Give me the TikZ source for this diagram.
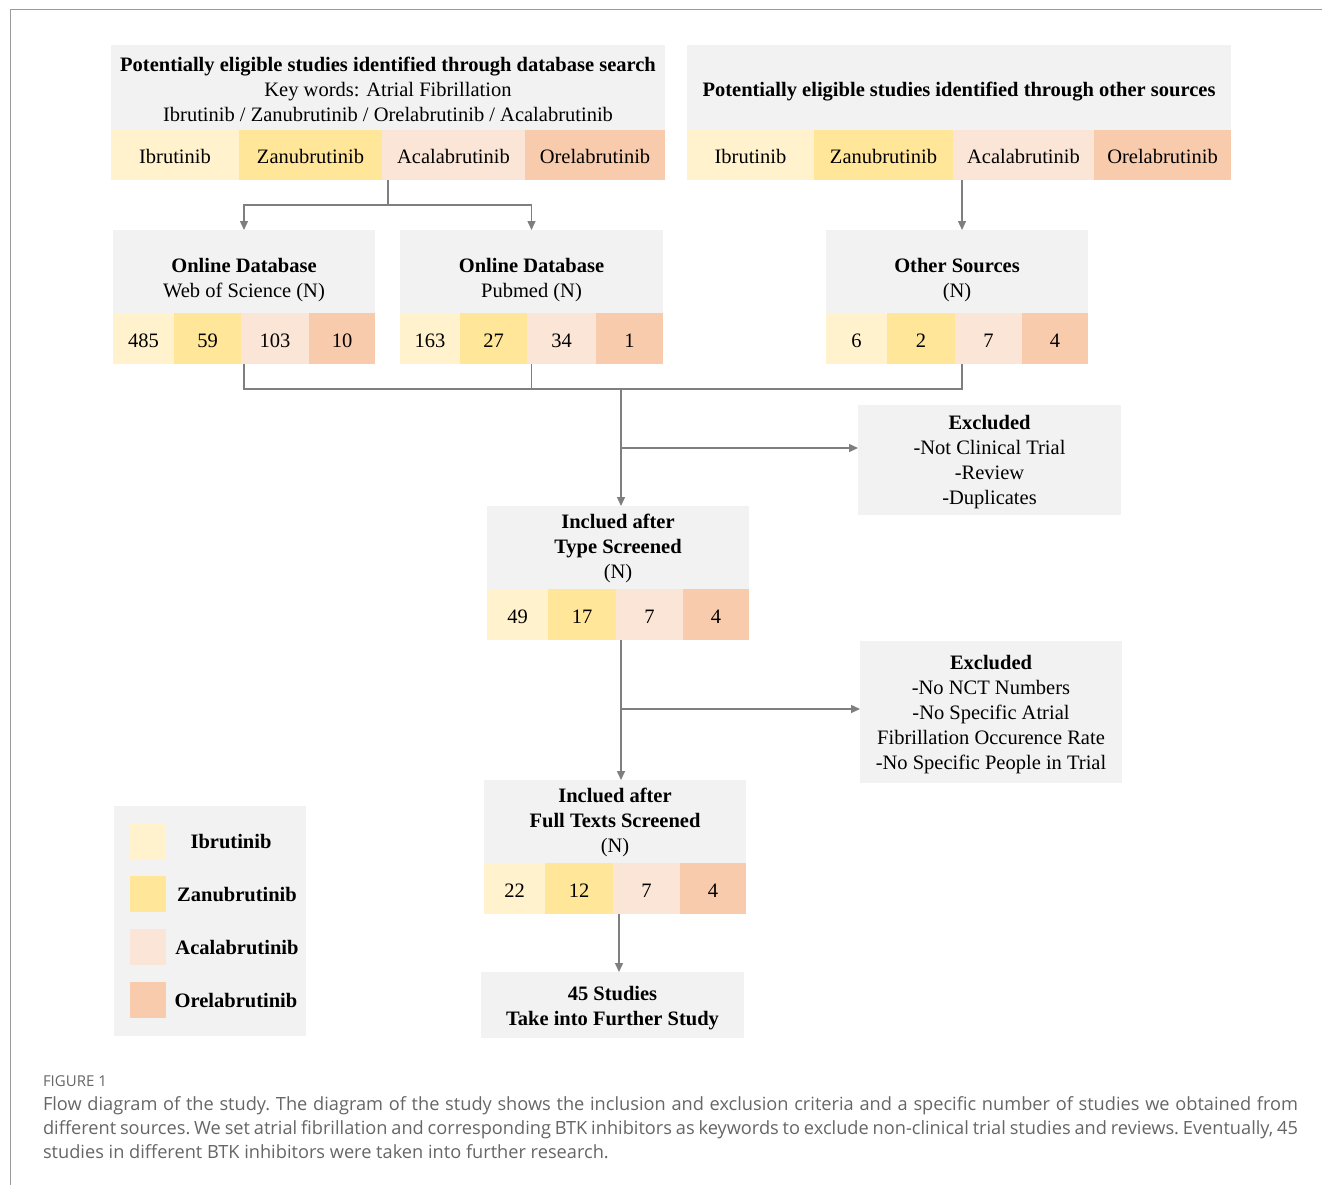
\documentclass[tikz,border=0pt]{standalone}
\usepackage{fontspec}
\setmainfont{Liberation Serif}
\newfontfamily\capfont{Open Sans}
\usetikzlibrary{arrows.meta}
\definecolor{ibr}{HTML}{FFF2CC}
\definecolor{zan}{HTML}{FFE699}
\definecolor{aca}{HTML}{FBE5D6}
\definecolor{ore}{HTML}{F8CBAD}
\definecolor{hd}{HTML}{F2F2F2}
\definecolor{lncol}{HTML}{7F7F7F}
\definecolor{capcol}{HTML}{666666}
\definecolor{framecol}{HTML}{9A9A9A}
\begin{document}
\begin{tikzpicture}[x=1pt,y=-1pt,
  base/.style={inner sep=0pt,outer sep=0pt,anchor=north west,align=center,font=\fontsize{20.5}{25}\selectfont},
  hdr/.style={base,fill=hd},
  cell/.style={base,text height=17pt,text depth=0pt},
  txt/.style={inner sep=0pt,outer sep=0pt,align=center,font=\fontsize{20.5}{25}\selectfont},
  conn/.style={draw=lncol,line width=1.4pt},
  arr/.style={conn,-{Triangle[length=9pt,width=8pt]}},
  captxt/.style={inner sep=0pt,outer sep=0pt,anchor=base west,text=capcol,font=\capfont\fontsize{18.2}{24}\selectfont\frenchspacing}
]
\useasboundingbox (0,0) rectangle (1322,1185);
\fill[white] (0,0) rectangle (1322,1185);
% frame
\draw[framecol,line width=1pt] (10,1185) -- (10,10) -- (1322,10);

% database search box
\node[hdr,minimum width=554pt,minimum height=85pt] (dbH) at (111,45) {};
\node[txt] (dbT) at ([yshift=-2pt]dbH.center) {\textbf{Potentially eligible studies identified through database search}\\Key words: Atrial Fibrillation\\Ibrutinib / Zanubrutinib / Orelabrutinib / Acalabrutinib};
\node[cell,fill=ibr,minimum width=128pt,minimum height=50pt] (db1) at (111,130) {Ibrutinib};
\node[cell,fill=zan,minimum width=143pt,minimum height=50pt] (db2) at (239,130) {Zanubrutinib};
\node[cell,fill=aca,minimum width=143pt,minimum height=50pt] (db3) at (382,130) {Acalabrutinib};
\node[cell,fill=ore,minimum width=140pt,minimum height=50pt] (db4) at (525,130) {Orelabrutinib};

% other sources box
\node[hdr,minimum width=544pt,minimum height=85pt] (otH) at (687,45) {};
\node[txt] (otT) at ([yshift=-4pt]otH.center) {\textbf{Potentially eligible studies identified through other sources}};
\node[cell,fill=ibr,minimum width=127pt,minimum height=50pt] (ot1) at (687,130) {Ibrutinib};
\node[cell,fill=zan,minimum width=139pt,minimum height=50pt] (ot2) at (814,130) {Zanubrutinib};
\node[cell,fill=aca,minimum width=141pt,minimum height=50pt] (ot3) at (953,130) {Acalabrutinib};
\node[cell,fill=ore,minimum width=137pt,minimum height=50pt] (ot4) at (1094,130) {Orelabrutinib};

% Web of Science
\node[hdr,minimum width=262pt,minimum height=83pt] (wosH) at (113,230) {};
\node[txt] (wosT) at ([yshift=-9pt]wosH.center) {\textbf{Online Database}\\Web of Science (N)};
\node[cell,fill=ibr,minimum width=61pt,minimum height=51pt] (wos1) at (113,313) {485};
\node[cell,fill=zan,minimum width=67pt,minimum height=51pt] (wos2) at (174,313) {59};
\node[cell,fill=aca,minimum width=68pt,minimum height=51pt] (wos3) at (241,313) {103};
\node[cell,fill=ore,minimum width=66pt,minimum height=51pt] (wos4) at (309,313) {10};

% Pubmed
\node[hdr,minimum width=263pt,minimum height=83pt] (pubH) at (400,230) {};
\node[txt] (pubT) at ([yshift=-9pt]pubH.center) {\textbf{Online Database}\\Pubmed (N)};
\node[cell,fill=ibr,minimum width=60pt,minimum height=51pt] (pub1) at (400,313) {163};
\node[cell,fill=zan,minimum width=67pt,minimum height=51pt] (pub2) at (460,313) {27};
\node[cell,fill=aca,minimum width=69pt,minimum height=51pt] (pub3) at (527,313) {34};
\node[cell,fill=ore,minimum width=67pt,minimum height=51pt] (pub4) at (596,313) {1};

% Other Sources
\node[hdr,minimum width=262pt,minimum height=83pt] (osH) at (826,230) {};
\node[txt] (osT) at ([yshift=-9pt]osH.center) {\textbf{Other Sources}\\(N)};
\node[cell,fill=ibr,minimum width=61pt,minimum height=51pt] (os1) at (826,313) {6};
\node[cell,fill=zan,minimum width=68pt,minimum height=51pt] (os2) at (887,313) {2};
\node[cell,fill=aca,minimum width=67pt,minimum height=51pt] (os3) at (955,313) {7};
\node[cell,fill=ore,minimum width=66pt,minimum height=51pt] (os4) at (1022,313) {4};

% Excluded 1
\node[hdr,minimum width=263pt,minimum height=110pt] (ex1) at (858,405) {};
\node[txt] (ex1T) at ([yshift=-2.5pt]ex1.center) {\textbf{Excluded}\\-Not Clinical Trial\\-Review\\-Duplicates};

% Type screened
\node[hdr,minimum width=262pt,minimum height=83pt] (typH) at (487,506) {};
\node[txt] (typT) at ([yshift=-1pt]typH.center) {\textbf{Inclued after}\\\textbf{Type Screened}\\(N)};
\node[cell,fill=ibr,minimum width=61pt,minimum height=51pt] (typ1) at (487,589) {49};
\node[cell,fill=zan,minimum width=68pt,minimum height=51pt] (typ2) at (548,589) {17};
\node[cell,fill=aca,minimum width=67pt,minimum height=51pt] (typ3) at (616,589) {7};
\node[cell,fill=ore,minimum width=66pt,minimum height=51pt] (typ4) at (683,589) {4};

% Excluded 2
\node[hdr,minimum width=262pt,minimum height=142pt] (ex2) at (860,641) {};
\node[txt] (ex2T) at ([yshift=-2.5pt]ex2.center) {\textbf{Excluded}\\-No NCT Numbers\\-No Specific Atrial\\Fibrillation Occurence Rate\\-No Specific People in Trial};

% Full texts screened
\node[hdr,minimum width=262pt,minimum height=83pt] (fulH) at (484,780) {};
\node[txt] (fulT) at ([yshift=-1pt]fulH.center) {\textbf{Inclued after}\\\textbf{Full Texts Screened}\\(N)};
\node[cell,fill=ibr,minimum width=61pt,minimum height=51pt] (ful1) at (484,863) {22};
\node[cell,fill=zan,minimum width=68pt,minimum height=51pt] (ful2) at (545,863) {12};
\node[cell,fill=aca,minimum width=67pt,minimum height=51pt] (ful3) at (613,863) {7};
\node[cell,fill=ore,minimum width=66pt,minimum height=51pt] (ful4) at (680,863) {4};

% Final
\node[hdr,minimum width=263pt,minimum height=66pt] (fin) at (481,972) {};
\node[txt] (finT) at ([yshift=-3pt]fin.center) {\textbf{45 Studies}\\\textbf{Take into Further Study}};

% Legend
\node[hdr,minimum width=192pt,minimum height=230pt] (leg) at (114,806) {};
\node[base,fill=ibr,minimum width=36pt,minimum height=36pt] (sw1) at (130,823) {};
\node[base,fill=zan,minimum width=36pt,minimum height=36pt] (sw2) at (130,876) {};
\node[base,fill=aca,minimum width=36pt,minimum height=36pt] (sw3) at (130,929) {};
\node[base,fill=ore,minimum width=36pt,minimum height=36pt] (sw4) at (130,982) {};
\node[txt] (lt1) at (231,842) {\textbf{Ibrutinib}};
\node[txt] (lt2) at (237,895) {\textbf{Zanubrutinib}};
\node[txt] (lt3) at (237,948) {\textbf{Acalabrutinib}};
\node[txt] (lt4) at (236,1001) {\textbf{Orelabrutinib}};

% connectors
\coordinate (j1) at (388,205);
\coordinate (xo) at (962,389);
\coordinate (m) at (621,389);
\coordinate (b1) at (621,448);
\coordinate (b2) at (621,709);
\coordinate (m2) at (619,914);
\draw[conn] (j1 |- db3.south) -- (j1);
\draw[arr] (j1) -| (pubH.north);
\draw[arr] (j1) -| (wosH.north);
\draw[arr] (xo |- ot3.south) -- (xo |- osH.north);
\draw[conn] (wosH.north |- wos3.south) -- (wosH.north |- m) -- (xo) -- (xo |- os2.south);
\draw[conn] (pubH.north |- pub3.south) -- (pubH.north |- m);
\draw[arr] (m) -- (m |- typH.north);
\draw[arr] (b1) -- (b1 -| ex1.west);
\draw[arr] (m |- typ3.south) -- (m |- fulH.north);
\draw[arr] (b2) -- (b2 -| ex2.west);
\draw[arr] (m2) -- (m2 |- fin.north);

% caption
\node[captxt,font=\capfont\fontsize{15}{18}\selectfont] (cap0) at (43,1086) {FIGURE 1};
\node[captxt] (cap1) at (43,1110) {\makebox[1255pt][s]{Flow diagram of the study. The diagram of the study shows the inclusion and exclusion criteria and a specific number of studies we obtained from}};
\node[captxt] (cap2) at (43,1134) {\makebox[1255pt][s]{different sources. We set atrial fibrillation and corresponding BTK inhibitors as keywords to exclude non-clinical trial studies and reviews. Eventually, 45}};
\node[captxt] (cap3) at (43,1158) {studies in different BTK inhibitors were taken into further research.};
\end{tikzpicture}
\end{document}
